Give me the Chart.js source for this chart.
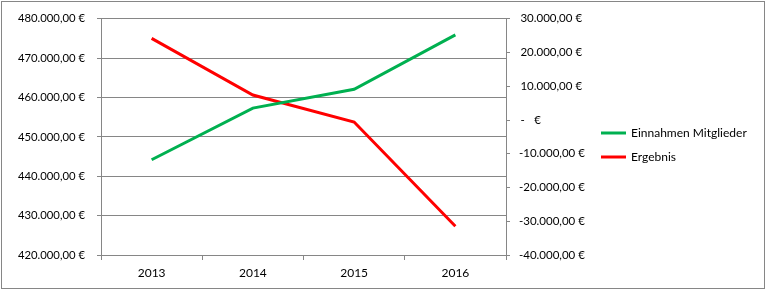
<!DOCTYPE html>
<html>
<head>
<meta charset="utf-8">
<script src="https://cdn.jsdelivr.net/npm/chart.js@4"></script>
<style>
  html, body { margin: 0; padding: 0; background: #fff; }
  #wrap { width: 766px; height: 291px; position: relative; }
</style>
</head>
<body>
<div id="wrap"><canvas id="c" width="766" height="291"></canvas></div>
<script>
const years = ['2013', '2014', '2015', '2016'];
const einnahmenMitglieder = [444200, 457300, 462100, 475900];
const ergebnis = [24200, 7400, -600, -31500];
const seriesNames = ['Einnahmen Mitglieder', 'Ergebnis'];
const seriesColors = ['#00B050', '#FF0000'];
const leftMin = 420000, leftMax = 480000, leftStep = 10000;
const rightMin = -40000, rightMax = 30000, rightStep = 10000;

const FONT = "Lato, sans-serif";
const GRID = '#868686';
const TEXT = '#000';

function fmt(v) {
  const neg = v < 0;
  const a = Math.abs(v);
  const intPart = Math.floor(a).toString().replace(/\B(?=(\d{3})+(?!\d))/g, '.');
  return (neg ? '-' : '') + intPart + ',00 €';
}
function leftLabel(v) { return fmt(v); }
function rightLabel(v) {
  if (v === 0) return '\u2009-\u2007 €';
  return v < 0 ? fmt(v) : '\u2009' + fmt(v);
}

const framePlugin = {
  id: 'frame',
  beforeDraw(chart) {
    const ctx = chart.ctx;
    ctx.save();
    ctx.fillStyle = '#fff';
    ctx.fillRect(0, 0, chart.width, chart.height);
    ctx.strokeStyle = GRID;
    ctx.lineWidth = 1;
    ctx.strokeRect(1.5, 1.5, 763, 287);
    ctx.restore();
  }
};

const legendPlugin = {
  id: 'customLegend',
  afterDraw(chart) {
    const ctx = chart.ctx;
    ctx.save();
    chart.data.datasets.forEach((ds, i) => {
      const y = 133 + i * 24;
      ctx.strokeStyle = ds.borderColor;
      ctx.lineWidth = 3;
      ctx.beginPath();
      ctx.moveTo(601, y);
      ctx.lineTo(626, y);
      ctx.stroke();
      ctx.fillStyle = TEXT;
      ctx.font = '12px ' + FONT;
      ctx.textBaseline = 'middle';
      ctx.textAlign = 'left';
      ctx.fillText(ds.label, 631, y);
    });
    ctx.restore();
  }
};

new Chart(document.getElementById('c'), {
  type: 'line',
  data: {
    labels: years,
    datasets: [
      { label: seriesNames[0], data: einnahmenMitglieder, yAxisID: 'yL',
        borderColor: seriesColors[0], backgroundColor: seriesColors[0],
        borderWidth: 3, pointRadius: 0, tension: 0 },
      { label: seriesNames[1], data: ergebnis, yAxisID: 'yR',
        borderColor: seriesColors[1], backgroundColor: seriesColors[1],
        borderWidth: 3, pointRadius: 0, tension: 0 }
    ]
  },
  options: {
    responsive: false,
    animation: false,
    layout: { padding: { top: 15, left: 0, right: 0, bottom: 0 } },
    plugins: { legend: { display: false }, tooltip: { enabled: false } },
    scales: {
      x: {
        offset: true,
        grid: { offset: true, drawOnChartArea: false, drawTicks: true, tickLength: 5, color: GRID },
        border: { display: true, color: GRID },
        ticks: { color: TEXT, font: { family: FONT, size: 12 }, padding: 6, maxRotation: 0 },
        afterFit(s) { s.height = 36; }
      },
      yL: {
        position: 'left',
        min: leftMin, max: leftMax,
        grid: { color: GRID, drawTicks: true, tickLength: 4 },
        border: { display: true, color: GRID },
        ticks: { stepSize: leftStep, color: TEXT, font: { family: FONT, size: 11.3 }, padding: 12,
                 callback: v => leftLabel(v) },
        afterFit(s) { s.width = 101; }
      },
      yR: {
        position: 'right',
        min: rightMin, max: rightMax,
        grid: { drawOnChartArea: false, color: GRID, drawTicks: true, tickLength: 4 },
        border: { display: true, color: GRID },
        ticks: { stepSize: rightStep, color: TEXT, font: { family: FONT, size: 11.5 }, padding: 9,
                 callback: v => rightLabel(v) },
        afterFit(s) { s.width = 260; }
      }
    }
  },
  plugins: [framePlugin, legendPlugin]
});
</script>
</body>
</html>
